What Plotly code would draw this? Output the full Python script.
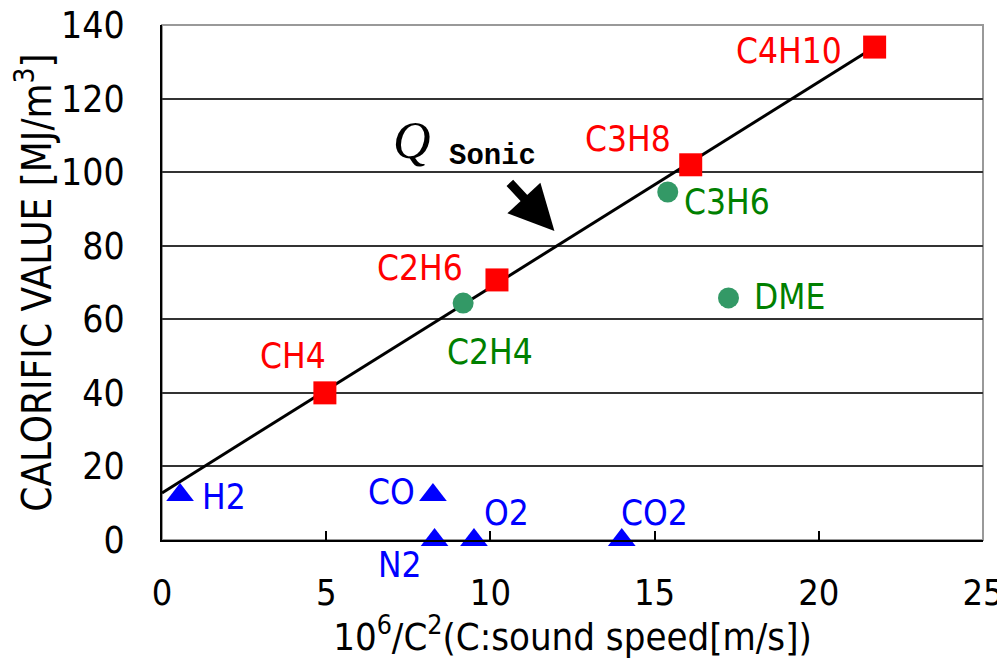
import plotly.graph_objects as go

# ---- data ----
alkane_names = ["CH4", "C2H6", "C3H8", "C4H10"]
alkane_x = [4.96, 10.2, 16.1, 21.7]
alkane_y = [40.0, 70.7, 102.0, 134.0]

other_names = ["C2H4", "C3H6", "DME"]
other_x = [9.17, 15.4, 17.25]
other_y = [64.4, 94.6, 65.8]

inert_names = ["H2", "CO", "N2", "O2", "CO2"]
inert_x = [0.55, 8.25, 8.3, 9.5, 14.0]
inert_y = [12.2, 12.2, 0.0, 0.0, 0.0]

fit_x = [0.0, 21.7]
fit_y = [12.8, 134.0]

x_ticks = [0, 5, 10, 15, 20, 25]
y_ticks = [0, 20, 40, 60, 80, 100, 120, 140]

# label positions (data coords)
alkane_lab_x = [4.0, 7.85, 14.2, 19.1]
alkane_lab_y = [50.0, 74.0, 109.0, 133.0]
other_lab_x = [10.0, 17.2, 19.1]
other_lab_y = [51.0, 92.0, 66.0]
inert_lab_x = [1.9, 7.0, 7.25, 10.5, 15.0]
inert_lab_y = [11.7, 13.0, 0.0, 7.3, 7.3]
inert_lab_shift = [0, 0, -25, 0, 0]   # px shift (N2 sits below the axis)

FONT = "DejaVu Sans Condensed, Liberation Sans Narrow, Arial Narrow, sans-serif"

fig = go.Figure()

fig.add_trace(go.Scatter(x=fit_x, y=fit_y, mode="lines",
                         line=dict(color="black", width=3), cliponaxis=False,
                         showlegend=False, hoverinfo="skip"))
fig.add_trace(go.Scatter(x=other_x, y=other_y, mode="markers",
                         marker=dict(symbol="circle", size=21, color="#339966"),
                         cliponaxis=False, showlegend=False))
fig.add_trace(go.Scatter(x=alkane_x, y=alkane_y, mode="markers",
                         marker=dict(symbol="square", size=23, color="#FF0000"),
                         cliponaxis=False, showlegend=False))
fig.add_trace(go.Scatter(x=inert_x, y=inert_y, mode="markers",
                         marker=dict(symbol="triangle-up", size=24, color="#0000FF"),
                         cliponaxis=False, showlegend=False))

ann = []
for n, x, y in zip(alkane_names, alkane_lab_x, alkane_lab_y):
    ann.append(dict(x=x, y=y, text=n, showarrow=False,
                    font=dict(family=FONT, size=35, color="#FF0000")))
for n, x, y in zip(other_names, other_lab_x, other_lab_y):
    ann.append(dict(x=x, y=y, text=n, showarrow=False,
                    font=dict(family=FONT, size=35, color="#008000")))
for n, x, y, s in zip(inert_names, inert_lab_x, inert_lab_y, inert_lab_shift):
    ann.append(dict(x=x, y=y, yshift=s, text=n, showarrow=False,
                    font=dict(family=FONT, size=35, color="#0000FF")))

# Q Sonic label and arrow
ann.append(dict(x=7.6, y=108.5, text="<i>Q</i>", showarrow=False,
                font=dict(family="Liberation Serif, DejaVu Serif, serif", size=52, color="black")))
ann.append(dict(x=10.05, y=104.3, text="<b>Sonic</b>", showarrow=False,
                font=dict(family="Liberation Mono, DejaVu Sans Mono, monospace", size=29, color="black")))
ann.append(dict(x=11.95, y=84.0, ax=10.55, ay=97.5, axref="x", ayref="y",
                text="", showarrow=True, arrowhead=2, arrowsize=1.0,
                arrowwidth=9, arrowcolor="black"))

# page body has an 8px margin, so the figure is drawn 8px in from the top-left
fig.update_layout(
    width=1005, height=651,
    margin=dict(l=154, r=30, t=17, b=119),
    paper_bgcolor="white", plot_bgcolor="white",
    annotations=ann,
    shapes=[dict(type="rect", xref="paper", yref="paper", x0=0, y0=0, x1=1, y1=1,
                 line=dict(color="#999999", width=2), layer="below")],
    xaxis=dict(range=[0, 25], tickvals=x_ticks, ticktext=[str(v) for v in x_ticks],
               showgrid=False, zeroline=False, showline=True, linecolor="black", linewidth=2,
               ticks="inside", ticklen=9, tickwidth=2, tickcolor="black",
               ticklabelstandoff=20, automargin=False, ticklabeloverflow="allow",
               tickfont=dict(family=FONT, size=36, color="black"),
               title=dict(text="10<sup>6</sup>/C<sup>2</sup>(C:sound speed[m/s])",
                          font=dict(family=FONT, size=38, color="black"), standoff=10)),
    yaxis=dict(range=[0, 140], tickvals=y_ticks, ticktext=[str(v) for v in y_ticks],
               showgrid=True, gridcolor="#333333", gridwidth=2, zeroline=False,
               showline=True, linecolor="black", linewidth=2, ticks="",
               ticklabelstandoff=28, automargin=False, ticklabeloverflow="allow",
               tickfont=dict(family=FONT, size=37, color="black"),
               title=dict(text="CALORIFIC VALUE [MJ/m<sup>3</sup>]",
                          font=dict(family=FONT, size=40, color="black"), standoff=22)),
)

fig.write_html("out.html")
